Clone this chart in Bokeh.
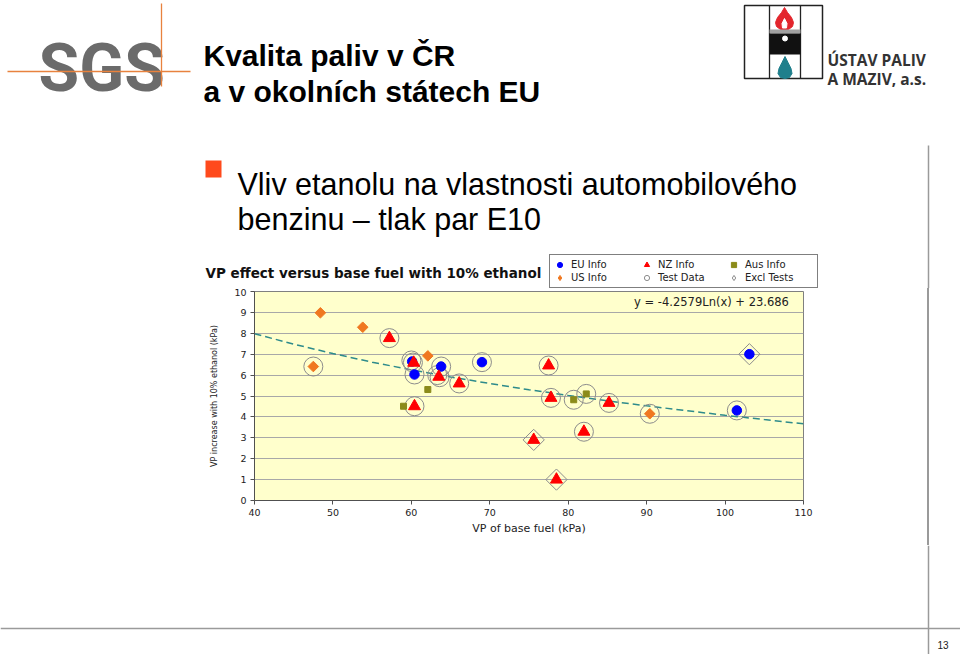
from bokeh.plotting import figure
from bokeh.models import Range1d, FixedTicker, Label, Legend, LegendItem, Spacer
from bokeh.layouts import column, row
from bokeh.embed import file_html
from bokeh.resources import INLINE
from bokeh.core.properties import value

# ---------------- data ----------------
eu_x = [60.1, 60.4, 63.8, 69.0, 103.1, 101.5]
eu_y = [6.65, 6.03, 6.41, 6.62, 7.0, 4.31]

nz_x = [57.2, 60.3, 63.5, 66.1, 77.5, 60.4, 75.6, 77.8, 85.2, 82.0, 78.5]
nz_y = [7.77, 6.59, 5.92, 5.6, 6.46, 4.51, 2.9, 4.91, 4.67, 3.29, 1.0]

aus_x = [62.1, 59.0, 80.7, 82.3]
aus_y = [5.31, 4.51, 4.82, 5.1]

us_x = [48.4, 53.8, 47.5, 62.1, 90.4]
us_y = [8.98, 8.29, 6.41, 6.92, 4.15]

test_x = [47.5, 57.2, 60.0, 60.2, 60.4, 63.8, 63.3, 63.6, 66.1, 69.0, 60.4,
          77.5, 77.8, 80.7, 82.3, 85.2, 82.0, 90.4, 101.5]
test_y = [6.41, 7.77, 6.7, 6.6, 6.03, 6.41, 6.0, 5.9, 5.6, 6.62, 4.51,
          6.46, 4.91, 4.82, 5.1, 4.67, 3.29, 4.15, 4.31]

excl_x = [103.1, 75.6, 78.5]
excl_y = [7.0, 2.9, 1.0]

trend_x = [40, 45, 50, 55, 60, 65, 70, 75, 80, 85, 90, 95, 100, 105, 110]
trend_y = [7.98, 7.48, 7.03, 6.62, 6.25, 5.91, 5.60, 5.30, 5.03, 4.77, 4.53, 4.30, 4.08, 3.87, 3.67]

x_ticks = [40, 50, 60, 70, 80, 90, 100, 110]
y_ticks = [0, 1, 2, 3, 4, 5, 6, 7, 8, 9, 10]

series_names = ["EU Info", "NZ Info", "Aus Info", "US Info", "Test Data", "Excl Tests"]

chart_title = "VP effect versus base fuel with 10% ethanol"
equation = "y = -4.2579Ln(x) + 23.686"
x_label = "VP of base fuel (kPa)"
y_label = "VP increase with 10% ethanol (kPa)"

slide_title = ["Kvalita paliv v ČR", "a v okolních státech EU"]
bullet_text = ["Vliv etanolu na vlastnosti automobilového", "benzinu – tlak par E10"]
page_number = "13"

# series styles
EU_C, NZ_C, AUS_C, US_C, RING_C = "#0000ff", "#ff0000", "#8b8b1a", "#f07820", "#8c8c8c"
GRAY_LINE = "#9a9a9a"
DIAMOND = 0.785398


def deco_fig(w, h, x0, x1, y0, y1):
    f = figure(width=w, height=h, x_range=Range1d(x0, x1), y_range=Range1d(y1, y0),
               x_axis_location=None, y_axis_location=None, toolbar_location=None,
               output_backend="svg", min_border=0, outline_line_color=None,
               background_fill_color="white", border_fill_color="white")
    f.grid.visible = False
    return f


TOP_H = 288
# ---------------- top band: logos, titles, bullet, chart title, legend ----------------
top = deco_fig(960, TOP_H, 0, 960, 0, TOP_H)

# SGS logo
top.text(x=[38], y=[68], text=["SGS"], text_font=value("Roboto"),
         text_font_style="bold", text_font_size="66px", text_color="#6b6b6b",
         text_baseline="alphabetic")
top.segment(x0=[7], y0=[71], x1=[190], y1=[71], line_color="#e8823e", line_width=1.3)
top.segment(x0=[161], y0=[3], x1=[161], y1=[86], line_color="#e8823e", line_width=1.3)

# slide title
top.text(x=[203, 203], y=[55, 91], text=slide_title, text_font=value("Liberation Sans"),
         text_font_style="bold", text_font_size="30px", text_color="#000000",
         text_baseline="alphabetic")

# right logo
top.quad(left=[744], right=[822], top=[5], bottom=[78], fill_color="white",
         line_color="#222222", line_width=1.5)
top.segment(x0=[769, 800], y0=[5, 5], x1=[769, 800], y1=[78, 78], line_color="#222222", line_width=1.3)
top.patch(x=[784, 787, 791, 793, 792, 788, 780, 776, 775, 777, 781],
          y=[7, 12, 17, 22, 26, 29, 29, 26, 22, 17, 12], fill_color="#e3262d", line_color="#e3262d")
top.patch(x=[784, 786.5, 786, 782, 781.5], y=[18, 23, 27.5, 27.5, 23], fill_color="white", line_color="white")
top.quad(left=[769], right=[800], top=[29], bottom=[33], fill_color="#a0a0a0", line_color=None)
top.quad(left=[769], right=[800], top=[33], bottom=[54], fill_color="#111111", line_color=None)
top.scatter(x=[784.5], y=[38], size=5, marker="circle", fill_color="white", line_color="white")
top.patch(x=[784.5, 787.5, 790.5, 791.5, 789, 784.5, 780, 777.5, 778.5, 781.5],
          y=[56, 62, 68, 73, 77, 78, 77, 73, 68, 62], fill_color="#1f7f8c", line_color="#1f7f8c")
top.text(x=[827, 827], y=[59, 78], text=["ÚSTAV PALIV", "A MAZIV, a.s."],
         text_font=value("Open Sans"), text_font_style="bold", text_font_size="15.5px",
         text_color="#333333", text_baseline="alphabetic")

# bullet
top.quad(left=[205], right=[221], top=[160], bottom=[177], fill_color="#ff4a1c", line_color=None)
top.text(x=[237, 237], y=[183, 218], text=bullet_text, text_font=value("Liberation Sans"),
         text_font_size="30.5px", text_color="#000000", text_baseline="alphabetic")

top.segment(x0=[928], y0=[145], x1=[928], y1=[TOP_H], line_color=GRAY_LINE, line_width=1.5)

# chart title
top.text(x=[205], y=[272], text=[chart_title], text_font=value("DejaVu Sans"),
         text_font_style="bold", text_font_size="13.5px", text_color="#111111",
         text_baseline="middle")

# legend keys (same styling as the chart's series; their single point lies off-canvas)
off = dict(x=[-1000], y=[-1000])
k_eu = top.scatter(marker="circle", size=10, fill_color=EU_C, line_color=EU_C, **off)
k_nz = top.scatter(marker="triangle", size=12, fill_color=NZ_C, line_color=NZ_C, **off)
k_aus = top.scatter(marker="square", size=6, fill_color=AUS_C, line_color=AUS_C, **off)
k_us = top.scatter(marker="diamond", size=9, fill_color=US_C, line_color=US_C, **off)
k_test = top.scatter(marker="circle", size=19, fill_color=None, line_color=RING_C, **off)
k_excl = top.scatter(marker="diamond", size=15, fill_color=None, line_color=RING_C, **off)

legend = Legend(items=[
    LegendItem(label=series_names[0], renderers=[k_eu]),
    LegendItem(label=series_names[1], renderers=[k_nz]),
    LegendItem(label=series_names[2], renderers=[k_aus]),
    LegendItem(label=series_names[3], renderers=[k_us]),
    LegendItem(label=series_names[4], renderers=[k_test]),
    LegendItem(label=series_names[5], renderers=[k_excl]),
], orientation="horizontal", ncols=3, location=(549, 0),
    glyph_width=13, glyph_height=13, label_width=69, label_height=13, label_standoff=5,
    spacing=0, padding=3, margin=0, label_text_font="DejaVu Sans", label_text_font_size="10px",
    label_text_color="#222222", border_line_color="#000000", border_line_width=1,
    background_fill_color="white", background_fill_alpha=1.0)
top.add_layout(legend)

# ---------------- chart ----------------
MID_H = 545 - TOP_H
chart = figure(width=825, height=MID_H, x_range=Range1d(40, 110), y_range=Range1d(0, 10),
               toolbar_location=None, output_backend="svg",
               min_border_left=254, min_border_right=22, min_border_top=291 - TOP_H,
               min_border_bottom=45,
               background_fill_color="#FFFFCC", border_fill_color="white",
               outline_line_color="#808080", outline_line_width=1)

for ax in (chart.xaxis[0], chart.yaxis[0]):
    ax.major_label_text_font = "DejaVu Sans"
    ax.major_label_text_font_size = "9.5px"
    ax.major_label_text_color = "#222222"
    ax.axis_label_text_font = "DejaVu Sans"
    ax.axis_label_text_font_style = "normal"
    ax.axis_label_text_color = "#222222"
    ax.axis_line_color = "#505050"
    ax.major_tick_line_color = "#505050"
    ax.major_tick_in = 0
    ax.major_tick_out = 4
    ax.minor_tick_out = 0
    ax.minor_tick_in = 0
    ax.major_label_standoff = 4

chart.xaxis.ticker = FixedTicker(ticks=x_ticks)
chart.yaxis.ticker = FixedTicker(ticks=y_ticks)
chart.xaxis.axis_label = x_label
chart.xaxis.axis_label_text_font_size = "11px"
chart.xaxis.axis_label_standoff = 3
chart.yaxis.axis_label = y_label
chart.yaxis.axis_label_text_font_size = "8px"
chart.yaxis.axis_label_standoff = 12
chart.xgrid.visible = False
chart.ygrid.ticker = FixedTicker(ticks=y_ticks)
chart.ygrid.grid_line_color = "#a8a8a8"
chart.ygrid.grid_line_width = 1

chart.line(trend_x, trend_y, line_color="#2e8b8b", line_width=1.5, line_dash="7 4")

chart.scatter(test_x, test_y, marker="circle", size=19, fill_color=None, line_color=RING_C, line_width=1)
chart.scatter(excl_x, excl_y, marker="square", angle=DIAMOND, size=15, fill_color=None,
              line_color=RING_C, line_width=1)
chart.scatter(us_x, us_y, marker="square", angle=DIAMOND, size=7.5, fill_color=US_C, line_color=US_C)
chart.scatter(aus_x, aus_y, marker="square", size=6, fill_color=AUS_C, line_color=AUS_C)
chart.scatter(eu_x, eu_y, marker="circle", size=9.5, fill_color=EU_C, line_color=EU_C)
chart.scatter(nz_x, nz_y, marker="triangle", size=12, fill_color=NZ_C, line_color=NZ_C)

chart.add_layout(Label(x=88.4, y=9.52, text=equation, text_font="DejaVu Sans",
                       text_font_size="11.5px", text_color="#222222", text_baseline="middle"))

# ---------------- right side of chart band (vertical rule) ----------------
side_a = Spacer(width=102, height=MID_H)
side_line = Spacer(width=2, height=MID_H, styles={"background-color": GRAY_LINE})
side_b = Spacer(width=31, height=MID_H)

# ---------------- bottom band ----------------
bottom = deco_fig(960, 654 - 545, 0, 960, 545, 654)
bottom.segment(x0=[928], y0=[545], x1=[928], y1=[654], line_color=GRAY_LINE, line_width=1.5)
bottom.segment(x0=[0], y0=[628], x1=[960], y1=[628], line_color=GRAY_LINE, line_width=1.5)
bottom.text(x=[937], y=[644], text=[page_number], text_font=value("Liberation Sans"),
            text_font_size="10px", text_color="#222222", text_baseline="alphabetic")

page = column(top, row(chart, side_a, side_line, side_b), bottom)

with open("out.html", "w") as fh:
    fh.write(file_html(page, INLINE))
